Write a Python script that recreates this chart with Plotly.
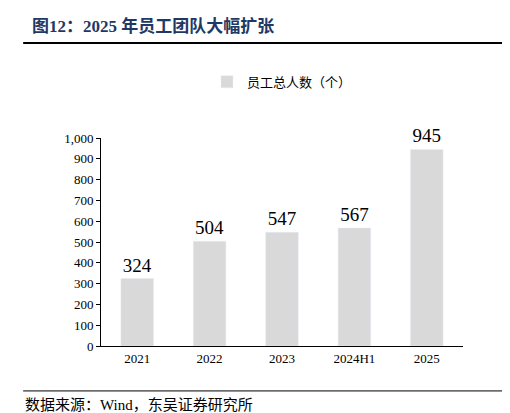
import plotly.graph_objects as go

years = ["2021", "2022", "2023", "2024H1", "2025"]
staff = [324, 504, 547, 567, 945]
y_ticks = [0, 100, 200, 300, 400, 500, 600, 700, 800, 900, 1000]
y_tick_labels = ["0", "100", "200", "300", "400", "500", "600", "700", "800", "900", "1,000"]

font = "Liberation Serif, Noto Sans CJK SC"

fig = go.Figure()
fig.add_trace(go.Bar(
    x=years, y=staff, name="员工总人数（个）",
    marker_color="#D9D9D9", width=0.45,
    text=staff, textposition="outside",
    textfont=dict(size=19, color="#000000", family=font),
    cliponaxis=False,
))

fig.update_layout(
    width=510, height=413,
    margin=dict(l=93, r=55, t=130, b=75, autoexpand=False),
    plot_bgcolor="white", paper_bgcolor="white",
    font=dict(family=font, size=13, color="#000000"),
    showlegend=True,
    legend=dict(orientation="h", x=0.5, xanchor="center", y=1.27, yanchor="middle",
                font=dict(size=13, family="Noto Sans CJK SC"), itemwidth=30),
    xaxis=dict(showline=True, linecolor="#000000", linewidth=1, ticks="",
               tickfont=dict(size=13)),
    yaxis=dict(range=[0, 1000], tickvals=y_ticks, ticktext=y_tick_labels,
               showline=True, linecolor="#000000", linewidth=1,
               ticks="outside", ticklen=4, tickcolor="#000000",
               showgrid=False, tickfont=dict(size=13)),
    bargap=0.5,
)

fig.add_annotation(text="<b>图12：2025 年员工团队大幅扩张</b>", xref="paper", yref="paper",
                   x=-0.196, y=1.54, xanchor="left", yanchor="middle", showarrow=False,
                   font=dict(size=17, color="#1F3864", family=font))
fig.add_shape(type="line", xref="paper", yref="paper", x0=-0.215, x1=1.138,
              y0=1.457, y1=1.457, line=dict(color="#000000", width=2))
fig.add_shape(type="line", xref="paper", yref="paper", x0=-0.215, x1=1.138,
              y0=-0.216, y1=-0.216, line=dict(color="#000000", width=1))
fig.add_annotation(text="数据来源：Wind，东吴证券研究所", xref="paper", yref="paper",
                   x=-0.215, y=-0.284, xanchor="left", yanchor="middle", showarrow=False,
                   font=dict(size=15, family=font))

fig.write_html("out.html")
